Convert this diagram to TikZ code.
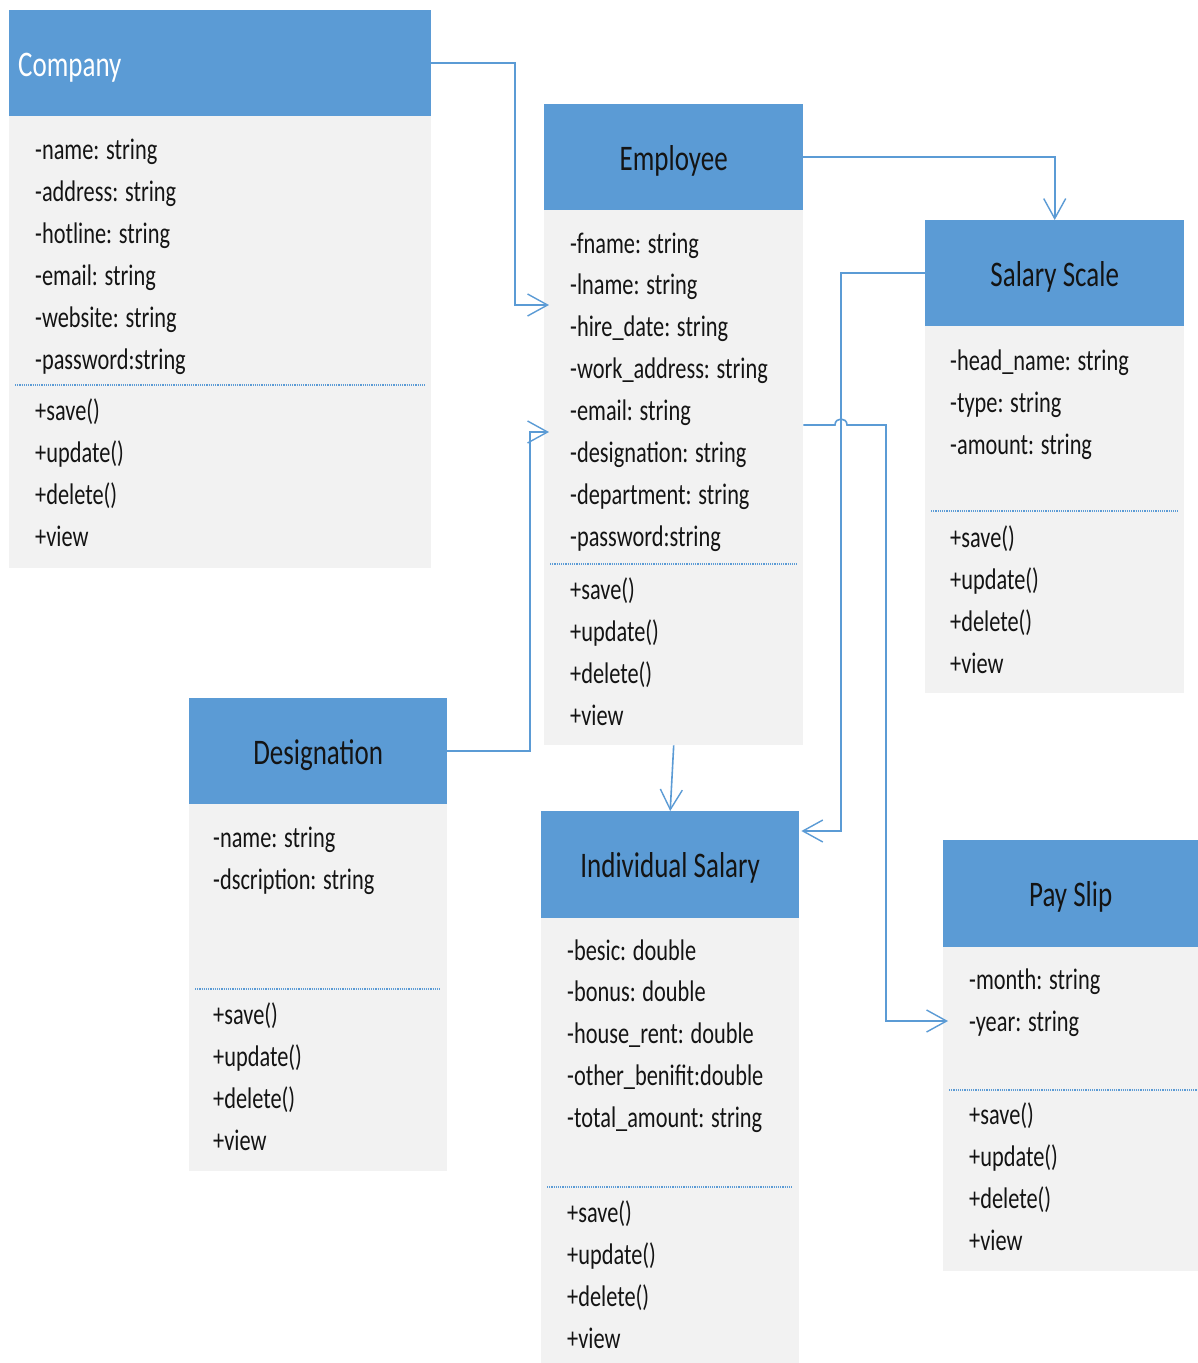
\documentclass[tikz,border=0pt]{standalone}
\usepackage{fontspec}
\setmainfont{Carlito}[FakeStretch=0.75]
\usetikzlibrary{arrows.meta}
\definecolor{hdrblue}{HTML}{5B9BD5}
\definecolor{bodygray}{HTML}{F2F2F2}
\definecolor{connblue}{HTML}{5B9BD5}
\definecolor{txt}{HTML}{141414}
\begin{document}
\begin{tikzpicture}[x=1pt,y=-1pt,
  hdrbox/.style={draw=none, fill=hdrblue, anchor=north west, inner sep=0pt,
    text height=26pt, text depth=0pt, text=txt, font=\fontsize{36}{40}\selectfont},
  bodybox/.style={draw=none, fill=bodygray, anchor=north west, inner sep=0pt},
  attr/.style={anchor=base west, inner sep=0pt, text=txt, font=\fontsize{29.8}{30}\selectfont},
  sepline/.style={draw=hdrblue, line width=1.2pt, densely dotted},
  conn/.style={draw=connblue, line width=1.6pt, -{Straight Barb[length=20pt,width=22pt,line width=1.4pt]}},
  connplain/.style={draw=connblue, line width=1.6pt}
]
\useasboundingbox (0,0) rectangle (1198,1363);
\fill[white] (0,0) rectangle (1198,1363);

% ---------- Company ----------
\node[bodybox, minimum width=422pt, minimum height=452pt] (companyb) at (9,116) {};
\node[hdrbox, minimum width=422pt, minimum height=106pt] (company) at (9,10) {};
\node[anchor=base west, inner sep=0pt, text=white, font=\fontsize{36}{40}\selectfont] (companyt) at (18,76) {Company};
\foreach \t [count=\i] in {-name: string,-address: string,-hotline: string,-email: string,-website: string,-password:string}
  \node[attr] (ca\i) at (35,{159+(\i-1)*42}) {\t};
\draw[sepline] (15,385) -- (425,385);
\foreach \t [count=\i] in {+save(),+update(),+delete(),+view}
  \node[attr] (cm\i) at (35,{420+(\i-1)*42}) {\t};

% ---------- Employee ----------
\node[bodybox, minimum width=259pt, minimum height=535pt] (empb) at (544,210) {};
\node[hdrbox, minimum width=259pt, minimum height=106pt] (emp) at (544,104) {Employee};
\foreach \t [count=\i] in {-fname: string,-lname: string,-hire\_date: string,-work\_address: string,-email: string,-designation: string,-department: string,-password:string}
  \node[attr] (ea\i) at (570,{253+(\i-1)*41.86}) {\t};
\draw[sepline] (550,564) -- (797,564);
\foreach \t [count=\i] in {+save(),+update(),+delete(),+view}
  \node[attr] (em\i) at (570,{599+(\i-1)*42}) {\t};

% ---------- Salary Scale ----------
\node[bodybox, minimum width=259pt, minimum height=367pt] (salb) at (925,326) {};
\node[hdrbox, minimum width=259pt, minimum height=106pt] (sal) at (925,220) {Salary Scale};
\foreach \t [count=\i] in {-head\_name: string,-type: string,-amount: string}
  \node[attr] (sa\i) at (950,{370+(\i-1)*42}) {\t};
\draw[sepline] (931,511) -- (1178,511);
\foreach \t [count=\i] in {+save(),+update(),+delete(),+view}
  \node[attr] (sm\i) at (950,{547+(\i-1)*42}) {\t};

% ---------- Designation ----------
\node[bodybox, minimum width=258pt, minimum height=367pt] (desb) at (189,804) {};
\node[hdrbox, minimum width=258pt, minimum height=106pt] (des) at (189,698) {Designation};
\foreach \t [count=\i] in {-name: string,-dscription: string}
  \node[attr] (da\i) at (213,{847+(\i-1)*42}) {\t};
\draw[sepline] (195,989) -- (441,989);
\foreach \t [count=\i] in {+save(),+update(),+delete(),+view}
  \node[attr] (dm\i) at (213,{1024+(\i-1)*42}) {\t};

% ---------- Individual Salary ----------
\node[bodybox, minimum width=258pt, minimum height=445pt] (indb) at (541,918) {};
\node[hdrbox, minimum width=258pt, minimum height=107pt] (ind) at (541,811) {Individual Salary};
\foreach \t [count=\i] in {-besic: double,-bonus: double,-house\_rent: double,-other\_benifit:double,-total\_amount: string}
  \node[attr] (ia\i) at (567,{960+(\i-1)*41.75}) {\t};
\draw[sepline] (547,1187) -- (793,1187);
\foreach \t [count=\i] in {+save(),+update(),+delete(),+view}
  \node[attr] (im\i) at (567,{1222+(\i-1)*42}) {\t};

% ---------- Pay Slip ----------
\node[bodybox, minimum width=255pt, minimum height=324pt] (payb) at (943,947) {};
\node[hdrbox, minimum width=255pt, minimum height=107pt] (pay) at (943,840) {Pay Slip};
\foreach \t [count=\i] in {-month: string,-year: string}
  \node[attr] (pa\i) at (969,{989+(\i-1)*42}) {\t};
\draw[sepline] (949,1090) -- (1198,1090);
\foreach \t [count=\i] in {+save(),+update(),+delete(),+view}
  \node[attr] (pm\i) at (969,{1124+(\i-1)*42}) {\t};

% ---------- Connectors ----------
\coordinate (empin1) at ([xshift=5pt]empb.west |- 0,305);
\coordinate (empin2) at ([xshift=5pt]empb.west |- 0,432);
\draw[conn] (company.east) -| (515,305) -- (empin1);
\draw[conn] (des.east) -| (530,432) -- (empin2);
\draw[conn] (emp.east) -| (sal.north);
\coordinate (indin) at ([xshift=2pt]ind.east |- 0,831);
\draw[conn] (sal.west) -| (841,831) -- (indin);
\coordinate (empout) at (empb.east |- 0,425);
\coordinate (payin) at ([xshift=5pt]payb.west |- 0,1021);
\draw[conn] (empout) -- (835,425) .. controls (835,417) and (847,417) .. (847,425) -- (886,425) |- (payin);
\draw[conn] (empb.south) -- (ind.north);
\end{tikzpicture}
\end{document}
